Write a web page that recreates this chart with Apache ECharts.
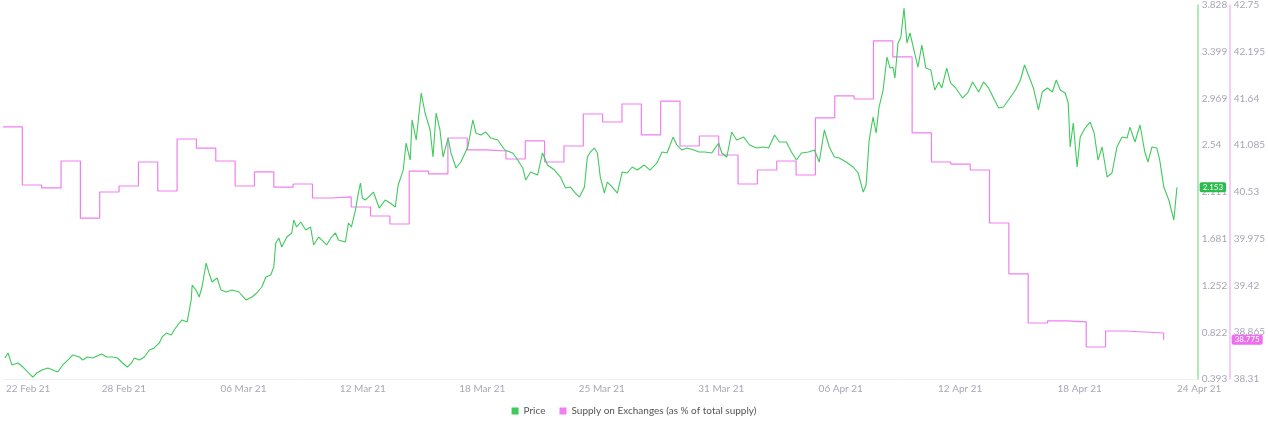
<!DOCTYPE html>
<html>
<head>
<meta charset="utf-8">
<script src="https://cdn.jsdelivr.net/npm/echarts@6/dist/echarts.min.js"></script>
<style>
html,body{margin:0;padding:0;background:#fff;}
#chart{width:1268px;height:425px;}
</style>
</head>
<body>
<div id="chart"></div>
<script>
// X axis: days since 22 Feb 2021
const xTickDays = [0, 6.176, 12.352, 18.528, 24.704, 30.88, 37.056, 43.232, 49.408, 55.584, 61.76];
const xTickLabels = ['22 Feb 21', '28 Feb 21', '06 Mar 21', '12 Mar 21', '18 Mar 21', '25 Mar 21', '31 Mar 21', '06 Apr 21', '12 Apr 21', '18 Apr 21', '24 Apr 21'];
const priceTicks = [0.393, 0.822, 1.252, 1.681, 2.111, 2.54, 2.969, 3.399, 3.828];
const supplyTicks = [38.31, 38.865, 39.42, 39.975, 40.53, 41.085, 41.64, 42.195, 42.75];

const priceDays = [0.10,0.26,0.46,0.77,1.03,1.29,1.54,1.75,2.01,2.32,2.57,2.83,3.09,3.35,3.60,3.96,4.12,4.37,4.63,5.10,5.35,5.66,5.92,6.18,6.43,6.64,6.79,7.05,7.31,7.57,7.82,8.08,8.23,8.44,8.70,8.85,9.11,9.26,9.52,9.73,9.78,9.98,10.14,10.29,10.50,10.65,10.81,11.07,11.27,11.53,11.84,12.20,12.56,12.87,13.12,13.38,13.59,13.84,14.00,14.10,14.26,14.41,14.67,14.93,15.03,15.18,15.39,15.65,15.90,16.06,16.32,16.47,16.73,16.98,17.19,17.34,17.70,17.86,18.01,18.22,18.37,18.48,18.58,18.73,18.89,19.15,19.30,19.45,19.76,20.02,20.28,20.43,20.69,20.84,21.05,21.15,21.36,21.62,21.82,22.08,22.23,22.39,22.59,22.75,23.01,23.16,23.42,23.67,24.03,24.29,24.45,24.70,24.96,25.22,25.58,25.94,26.35,26.61,26.87,27.02,27.28,27.64,27.89,28.15,28.51,28.82,29.08,29.34,29.59,29.80,30.06,30.21,30.37,30.57,30.73,30.88,31.09,31.24,31.50,31.76,32.01,32.27,32.53,32.79,33.15,33.45,33.81,34.07,34.33,34.64,34.84,35.10,35.36,35.72,35.98,36.28,36.64,37.00,37.16,37.42,37.67,37.93,38.29,38.60,38.96,39.32,39.58,39.89,40.14,40.50,40.76,41.02,41.28,41.64,41.95,42.20,42.46,42.72,42.98,43.23,43.59,43.95,44.21,44.47,44.62,44.78,44.98,45.14,45.29,45.50,45.70,45.86,46.01,46.11,46.27,46.42,46.58,46.73,46.89,47.09,47.30,47.50,47.71,47.97,48.17,48.38,48.53,48.79,48.99,49.25,49.61,49.87,50.13,50.44,50.69,50.95,51.21,51.47,51.72,51.98,52.34,52.60,52.81,53.01,53.27,53.53,53.73,53.99,54.25,54.45,54.66,54.91,55.07,55.17,55.33,55.53,55.69,55.94,56.20,56.41,56.61,56.82,57.08,57.33,57.59,57.85,58.11,58.26,58.52,58.78,59.03,59.19,59.40,59.65,59.80,60.01,60.27,60.53,60.69];
const priceValues = [0.586,0.632,0.522,0.540,0.503,0.457,0.411,0.448,0.476,0.494,0.476,0.457,0.522,0.567,0.613,0.595,0.567,0.595,0.586,0.623,0.595,0.595,0.586,0.540,0.503,0.540,0.586,0.567,0.595,0.659,0.678,0.724,0.779,0.815,0.797,0.843,0.907,0.935,0.917,1.119,1.256,1.210,1.146,1.238,1.458,1.367,1.284,1.321,1.210,1.192,1.210,1.192,1.119,1.146,1.183,1.238,1.330,1.348,1.422,1.642,1.688,1.605,1.697,1.734,1.853,1.789,1.835,1.761,1.789,1.624,1.697,1.670,1.624,1.697,1.734,1.670,1.651,1.826,1.789,1.945,2.101,2.193,2.055,2.037,2.064,2.110,2.037,1.963,2.037,2.009,1.973,2.175,2.312,2.560,2.404,2.772,2.588,3.020,2.836,2.680,2.432,2.836,2.680,2.432,2.606,2.469,2.331,2.386,2.524,2.772,2.652,2.634,2.661,2.606,2.588,2.496,2.469,2.404,2.331,2.221,2.294,2.267,2.469,2.358,2.312,2.248,2.147,2.156,2.101,2.064,2.156,2.432,2.478,2.514,2.469,2.248,2.101,2.202,2.156,2.101,2.294,2.285,2.340,2.312,2.358,2.312,2.377,2.478,2.469,2.615,2.542,2.496,2.514,2.496,2.478,2.478,2.469,2.560,2.469,2.432,2.661,2.588,2.615,2.542,2.514,2.524,2.514,2.634,2.570,2.570,2.478,2.404,2.469,2.478,2.496,2.386,2.680,2.524,2.432,2.423,2.386,2.340,2.285,2.110,2.175,2.588,2.799,2.652,2.891,3.047,3.350,3.249,3.258,3.157,3.479,3.534,3.800,3.479,3.571,3.415,3.258,3.460,3.249,3.231,3.047,3.121,3.066,3.249,3.111,3.066,2.974,3.020,3.121,3.029,3.121,3.066,2.974,2.882,2.891,2.955,3.047,3.139,3.277,3.185,3.066,2.864,3.029,3.066,3.029,3.139,3.047,3.020,2.928,2.524,2.744,2.340,2.615,2.698,2.753,2.652,2.404,2.524,2.248,2.285,2.524,2.615,2.606,2.707,2.570,2.726,2.478,2.386,2.524,2.514,2.404,2.156,2.037,1.853,2.153];

// Supply on exchanges, one value per day (day index = days since 22 Feb 2021)
const supplyValues = [41.302,40.613,40.578,40.898,40.221,40.530,40.601,40.886,40.542,41.159,41.052,40.898,40.601,40.768,40.589,40.625,40.459,40.471,40.352,40.245,40.150,40.779,40.744,41.171,41.029,41.017,40.922,41.136,40.886,41.076,41.456,41.361,41.575,41.207,41.610,41.076,41.195,40.969,40.625,40.791,40.898,40.732,41.409,41.670,41.634,42.323,42.133,41.231,40.886,40.862,40.791,40.162,39.557,38.975,38.999,38.987,38.690,38.880,38.868,38.856,38.775];

const PRICE_COLOR = '#3fca5c';
const SUPPLY_COLOR = '#f07ef0';

const priceData = priceDays.map((d, i) => [d, priceValues[i]]);
const supplyData = supplyValues.map((v, i) => [i, v]);

function nearestIdx(arr, v) {
  let best = 0;
  for (let i = 1; i < arr.length; i++) if (Math.abs(arr[i] - v) < Math.abs(arr[best] - v)) best = i;
  return best;
}

const labelFont = 'Lato, "Noto Sans", sans-serif';
const chart = echarts.init(document.getElementById('chart'), null, {renderer: 'canvas'});
chart.setOption({
  animation: false,
  backgroundColor: '#ffffff',
  textStyle: {fontFamily: labelFont},
  grid: {left: 3, right: 65, top: 5, bottom: 46},
  axisPointer: {lineStyle: {color: 'rgba(0,0,0,0)', opacity: 0}},
  legend: {
    bottom: 4,
    left: 'center',
    icon: 'rect',
    itemWidth: 7,
    itemHeight: 7,
    itemGap: 14,
    textStyle: {fontSize: 10, color: '#555', fontFamily: labelFont},
    data: ['Price', 'Supply on Exchanges (as % of total supply)']
  },
  xAxis: {
    type: 'value',
    min: xTickDays[0],
    max: xTickDays[xTickDays.length - 1],
    axisLine: {show: true, onZero: false, lineStyle: {color: '#f0f0f2', width: 1}},
    axisTick: {show: false},
    splitLine: {show: false},
    axisPointer: {show: false},
    axisLabel: {
      customValues: xTickDays,
      color: '#a8a8b8',
      fontSize: 10,
      margin: 5,
      alignMinLabel: 'left',
      padding: [0, 0, 0, 3],
      formatter: v => xTickLabels[nearestIdx(xTickDays, v)]
    }
  },
  yAxis: [
    {
      type: 'value',
      position: 'right',
      min: priceTicks[0],
      max: priceTicks[priceTicks.length - 1],
      axisLine: {show: true, onZero: false, lineStyle: {color: '#96e2a3', width: 1.5}},
      axisTick: {show: false},
      splitLine: {show: false},
      axisLabel: {
        customValues: priceTicks,
        color: '#a6a6b6',
        fontSize: 10,
        margin: 4,
        formatter: v => String(priceTicks[nearestIdx(priceTicks, v)])
      },
      axisPointer: {
        show: true,
        status: 'show',
        value: priceValues[priceValues.length - 1],
        type: 'line',
        lineStyle: {opacity: 0},
        triggerTooltip: false,
        label: {
          show: true,
          backgroundColor: '#2dbb4e',
          color: '#fff',
          fontSize: 8,
          padding: [1, 3, 1, 3],
          borderRadius: 2,
          margin: 2,
          formatter: p => Number(p.value).toFixed(3)
        }
      }
    },
    {
      type: 'value',
      position: 'right',
      offset: 32,
      min: supplyTicks[0],
      max: supplyTicks[supplyTicks.length - 1],
      axisLine: {show: true, onZero: false, lineStyle: {color: '#f3bdf3', width: 1.5}},
      axisTick: {show: false},
      splitLine: {show: false},
      axisLabel: {
        customValues: supplyTicks,
        color: '#a6a6b6',
        fontSize: 10,
        margin: 4,
        formatter: v => String(supplyTicks[nearestIdx(supplyTicks, v)])
      },
      axisPointer: {
        show: true,
        status: 'show',
        value: supplyValues[supplyValues.length - 1],
        type: 'line',
        lineStyle: {opacity: 0},
        triggerTooltip: false,
        label: {
          show: true,
          backgroundColor: '#ee6fee',
          color: '#fff',
          fontSize: 8,
          padding: [1, 3, 1, 3],
          borderRadius: 2,
          margin: 2,
          formatter: p => Number(p.value).toFixed(3)
        }
      }
    }
  ],
  series: [
    {
      name: 'Price',
      type: 'line',
      yAxisIndex: 0,
      data: priceData,
      showSymbol: false,
      symbol: 'none',
      color: PRICE_COLOR,
      lineStyle: {color: PRICE_COLOR, width: 1.1},
      z: 3
    },
    {
      name: 'Supply on Exchanges (as % of total supply)',
      type: 'line',
      yAxisIndex: 1,
      data: supplyData,
      step: 'end',
      showSymbol: false,
      symbol: 'none',
      color: SUPPLY_COLOR,
      lineStyle: {color: SUPPLY_COLOR, width: 1.2},
      z: 2
    }
  ]
});
</script>
</body>
</html>
